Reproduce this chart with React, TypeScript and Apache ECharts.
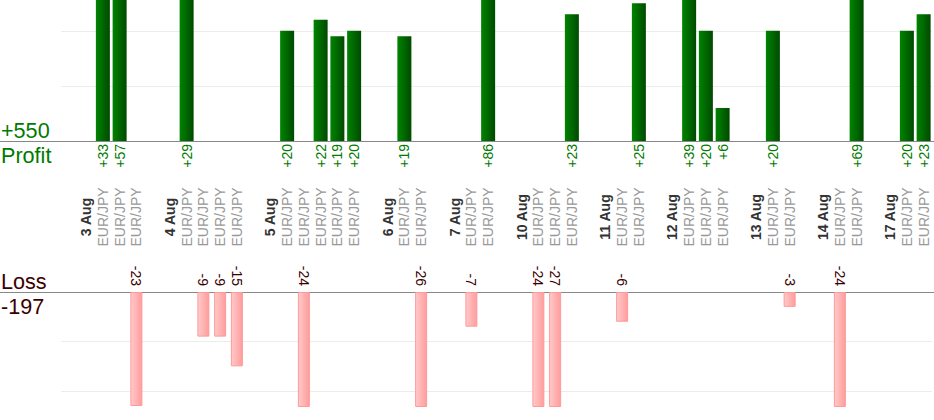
import React, { useEffect, useRef } from "react";
import * as echarts from "echarts";

// ---- data ----
const pair = "EUR/JPY";
const dates = ["3 Aug", "4 Aug", "5 Aug", "6 Aug", "7 Aug", "10 Aug", "11 Aug", "12 Aug", "13 Aug", "14 Aug", "17 Aug"];
// signed trade results per day, in order
const trades3 = [33, 57, -23];
const trades4 = [29, -9, -9, -15];
const trades5 = [20, -24, 22, 19, 20];
const trades6 = [19, -26];
const trades7 = [-7, 86];
const trades10 = [-24, -27, 23];
const trades11 = [-6, 25];
const trades12 = [39, 20, 6];
const trades13 = [20, -3];
const trades14 = [-24, 69];
const trades17 = [20, 23];
const tradesByDay = [trades3, trades4, trades5, trades6, trades7, trades10, trades11, trades12, trades13, trades14, trades17];

// build slots: gap, date, trades...
const slotKind: string[] = [];
const slotText: string[] = [];
const profitVals: (number | null)[] = [];
const lossVals: (number | null)[] = [];
dates.forEach((d, i) => {
  slotKind.push("gap"); slotText.push(""); profitVals.push(null); lossVals.push(null);
  slotKind.push("date"); slotText.push(d); profitVals.push(null); lossVals.push(null);
  tradesByDay[i].forEach((v) => {
    slotKind.push("trade"); slotText.push(pair);
    profitVals.push(v > 0 ? v : null);
    lossVals.push(v < 0 ? -v : null);
  });
});
const slotIdx = slotKind.map((_, i) => String(i));
const totalProfit = profitVals.reduce((a: number, v) => a + (v || 0), 0);
const totalLoss = lossVals.reduce((a: number, v) => a + (v || 0), 0);

const FONT = "'Liberation Sans', Arial, sans-serif";
const GREEN = "#007a00";
const MAROON = "#3a0000";

export default function App() {
  const ref = useRef<HTMLDivElement>(null);
  useEffect(() => {
    if (!ref.current) return;
    const chart = echarts.init(ref.current, undefined, { renderer: "svg" });
    const gl = 61, gr = 2;
    const baseAxis = {
      type: "category" as const,
      data: slotIdx,
      boundaryGap: true,
      axisLine: { show: false, onZero: false },
      axisTick: { show: false },
      splitLine: { show: false },
    };
    chart.setOption({
      animation: false,
      textStyle: { fontFamily: FONT },
      grid: [
        { left: gl, right: gr, top: 0, height: 141 },
        { left: gl, right: gr, top: 292, height: 114.5 },
        { left: 0, right: 0, top: 0, height: 141 },
        { left: 0, right: 0, top: 292, height: 114.5 },
      ],
      xAxis: [
        {
          ...baseAxis, gridIndex: 0, position: "bottom",
          axisLabel: {
            interval: 0, rotate: 90, margin: 3, fontSize: 14, color: GREEN, fontFamily: FONT,
            formatter: (_v: string, i: number) => (profitVals[i] != null ? "+" + profitVals[i] : ""),
          },
        },
        {
          ...baseAxis, gridIndex: 0, position: "bottom", offset: 76,
          axisLabel: {
            interval: 0, rotate: 90, margin: 0, fontSize: 14, fontWeight: "bold", color: "#333",
            align: "center", verticalAlign: "middle", fontFamily: FONT,
            formatter: (_v: string, i: number) => (slotKind[i] === "date" ? slotText[i] : ""),
          },
        },
        {
          ...baseAxis, gridIndex: 0, position: "bottom", offset: 76,
          axisLabel: {
            interval: 0, rotate: 90, margin: 0, fontSize: 14, color: "#999",
            align: "center", verticalAlign: "middle", fontFamily: FONT,
            formatter: (_v: string, i: number) => (slotKind[i] === "trade" ? slotText[i] : ""),
          },
        },
        {
          ...baseAxis, gridIndex: 1, position: "top",
          axisLabel: {
            interval: 0, rotate: 90, margin: 6, fontSize: 14, color: MAROON, fontFamily: FONT,
            formatter: (_v: string, i: number) => (lossVals[i] != null ? "-" + lossVals[i] : ""),
          },
        },
        {
          type: "category", data: [""], gridIndex: 2, position: "bottom",
          axisLine: { show: true, onZero: false, lineStyle: { color: "#888", width: 1 } },
          axisTick: { show: false }, axisLabel: { show: false },
        },
        {
          type: "category", data: [""], gridIndex: 3, position: "top",
          axisLine: { show: true, onZero: false, lineStyle: { color: "#888", width: 1 } },
          axisTick: { show: false }, axisLabel: { show: false },
        },
      ],
      yAxis: [
        {
          type: "value", gridIndex: 0, min: 0, max: 25.6, interval: 10,
          axisLine: { show: false }, axisTick: { show: false }, axisLabel: { show: false },
          splitLine: { show: true, showMinLine: false, showMaxLine: false, lineStyle: { color: "#ececec", width: 1 } },
        },
        {
          type: "value", gridIndex: 1, min: 0, max: 23.1, interval: 10, inverse: true,
          axisLine: { show: false }, axisTick: { show: false }, axisLabel: { show: false },
          splitLine: { show: true, showMinLine: false, showMaxLine: false, lineStyle: { color: "#ececec", width: 1 } },
        },
        { type: "value", gridIndex: 2, show: false },
        { type: "value", gridIndex: 3, show: false },
      ],
      series: [
        {
          type: "bar", xAxisIndex: 0, yAxisIndex: 0, data: profitVals, barWidth: 14, clip: true,
          itemStyle: {
            color: new echarts.graphic.LinearGradient(0, 0, 1, 0, [
              { offset: 0, color: "#008400" },
              { offset: 1, color: "#004a00" },
            ]),
          },
        },
        {
          type: "bar", xAxisIndex: 3, yAxisIndex: 1, data: lossVals, barWidth: 12, clip: true,
          itemStyle: {
            color: new echarts.graphic.LinearGradient(0, 0, 1, 0, [
              { offset: 0, color: "#ffcaca" },
              { offset: 1, color: "#ff9c9c" },
            ]),
            borderColor: "#ff9a9a",
            borderWidth: 1,
          },
        },
      ],
      graphic: [
        { type: "text", left: 1, top: 119, style: { text: "+" + totalProfit, fill: GREEN, fontSize: 21.6, fontFamily: FONT } },
        { type: "text", left: 1, top: 144, style: { text: "Profit", fill: GREEN, fontSize: 21.6, fontFamily: FONT } },
        { type: "text", left: 1, top: 270, style: { text: "Loss", fill: MAROON, fontSize: 21.6, fontFamily: FONT } },
        { type: "text", left: 1, top: 295, style: { text: "-" + totalLoss, fill: MAROON, fontSize: 21.6, fontFamily: FONT } },
      ],
    });
    return () => chart.dispose();
  }, []);
  return (
    <div style={{ position: "fixed", left: 0, top: 0, width: 934, height: 420, background: "#fff" }}>
      <div ref={ref} style={{ width: 934, height: 420 }} />
    </div>
  );
}
